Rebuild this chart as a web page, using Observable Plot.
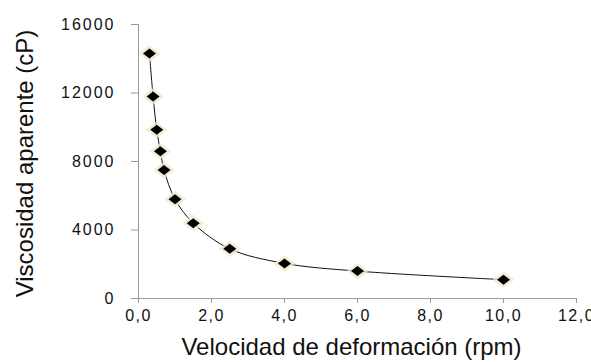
<!DOCTYPE html>
<html>
<head>
<meta charset="utf-8">
<script src="https://cdn.jsdelivr.net/npm/d3@7"></script>
<script src="https://cdn.jsdelivr.net/npm/@observablehq/plot@0.6"></script>
<style>
  html, body { margin: 0; padding: 0; background: #fff; overflow: hidden; }
  #chart svg { font-family: "Liberation Sans", Arial, sans-serif; }
  #chart g[aria-label="y-axis tick label"] text { letter-spacing: 2px; }
  #chart g[aria-label="x-axis tick label"] text { letter-spacing: 1.5px; }
</style>
</head>
<body>
<div id="chart"></div>
<script>
// Data
const rpm = [0.3, 0.4, 0.5, 0.6, 0.7, 1.0, 1.5, 2.5, 4.0, 6.0, 10.0];
const viscosity = [14300, 11800, 9850, 8600, 7500, 5800, 4400, 2900, 2050, 1600, 1100];
const xTicks = [0, 2, 4, 6, 8, 10, 12];
const yTicks = [0, 4000, 8000, 12000, 16000];
const xTitle = "Velocidad de deformación (rpm)";
const yTitle = "Viscosidad aparente (cP)";

const data = rpm.map((x, i) => ({x, y: viscosity[i]}));

// wide diamond marker
const wideDiamond = {
  draw(ctx, size) {
    const r = Math.sqrt(size / Math.PI);
    const w = r * 1.3, h = r;
    ctx.moveTo(0, -h);
    ctx.lineTo(w, 0);
    ctx.lineTo(0, h);
    ctx.lineTo(-w, 0);
    ctx.closePath();
  }
};

const axisColor = "#9a9a9a";

const chart = Plot.plot({
  width: 591,
  height: 362,
  marginLeft: 138,
  marginRight: 15,
  marginTop: 24,
  marginBottom: 64,
  style: {fontSize: "16px", color: "#111", background: "#fff"},
  x: {domain: [0, 12]},
  y: {domain: [0, 16000]},
  marks: [
    Plot.ruleX([0], {y1: 0, y2: 16000, stroke: axisColor}),
    Plot.ruleY([0], {x1: 0, x2: 12, stroke: axisColor}),
    Plot.axisX({ticks: xTicks, tickSize: 5, tickPadding: 6, stroke: axisColor,
      tickFormat: d => d.toFixed(1).replace(".", ","), label: null,
      fill: "#111", fontSize: 16}),
    Plot.axisY({ticks: yTicks, tickSize: 7, tickPadding: 16, stroke: axisColor,
      tickFormat: d => String(d), label: null,
      fill: "#111", fontSize: 16}),
    Plot.line(data, {x: "x", y: "y", curve: "catmull-rom", stroke: "#111", strokeWidth: 1}),
    Plot.dot(data, {x: "x", y: "y", symbol: wideDiamond, r: 6.5, fill: "none",
      stroke: "#efe8cc", strokeWidth: 3, strokeOpacity: 0.8}),
    Plot.dot(data, {x: "x", y: "y", symbol: wideDiamond, r: 5, fill: "#000", stroke: "none"}),
    Plot.text([xTitle], {frameAnchor: "bottom", textAnchor: "middle", dx: -6, dy: 56, fontSize: 24, fill: "#111"}),
    Plot.text([yTitle], {frameAnchor: "left", textAnchor: "middle", dx: -113, dy: 2, rotate: -90, fontSize: 24, fill: "#111"})
  ]
});

document.getElementById("chart").append(chart);
</script>
</body>
</html>
